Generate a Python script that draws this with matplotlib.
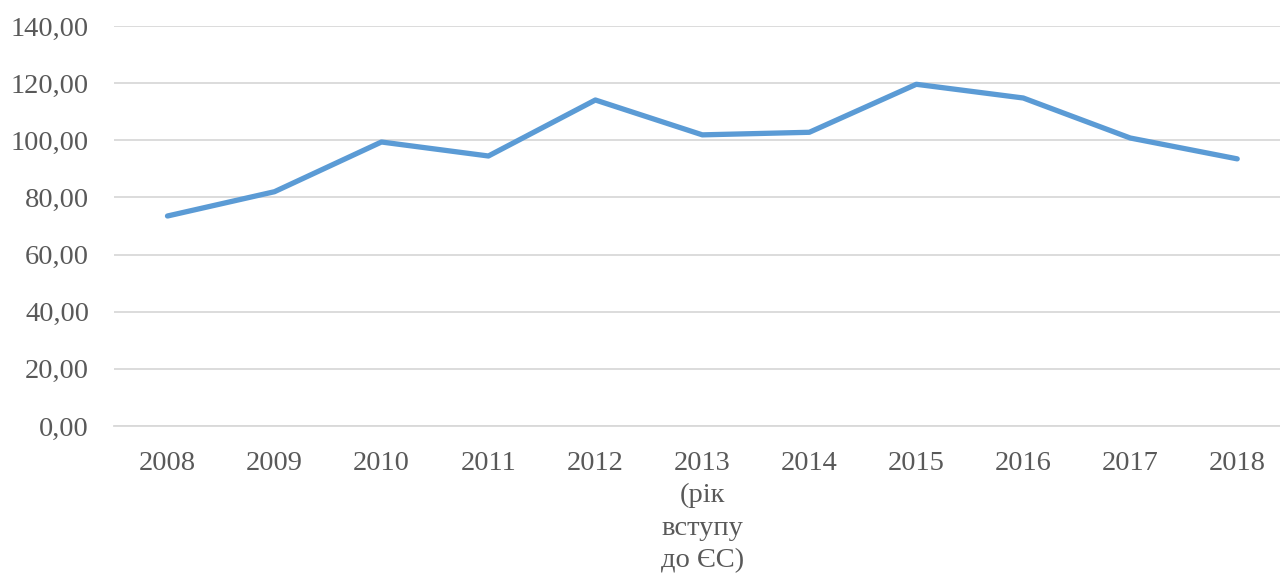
import matplotlib
matplotlib.use("Agg")
import matplotlib.pyplot as plt

years = ["2008", "2009", "2010", "2011", "2012", "2013\n(рік\nвступу\nдо ЄС)",
         "2014", "2015", "2016", "2017", "2018"]
values = [73.5, 82.0, 99.4, 94.5, 114.1, 101.9, 102.8, 119.6, 114.8, 100.8, 93.5]
yticks = [0, 20, 40, 60, 80, 100, 120, 140]
ytick_labels = ["0,00", "20,00", "40,00", "60,00", "80,00", "100,00", "120,00", "140,00"]

plt.rcParams['font.family'] = ['Liberation Serif', 'DejaVu Serif']

fig = plt.figure(figsize=(12.8, 5.77), dpi=100)
ax = fig.add_axes([114/1280, 1 - 426/577, 1 - 114/1280, 400/577])

x = list(range(len(values)))
ax.plot(x, values, color="#5B9BD5", linewidth=3.8, solid_capstyle="round", solid_joinstyle="round", zorder=3)

ax.set_xlim(-0.5, 10.4)
ax.set_ylim(0, 140)
ax.set_yticks(yticks)
ax.set_yticklabels(ytick_labels)
ax.set_xticks(x)
ax.set_xticklabels(years, linespacing=1.38)

ax.grid(axis="y", color="#D9D9D9", linewidth=1.3)
ax.set_axisbelow(True)
for s in ["top", "right", "left"]:
    ax.spines[s].set_visible(False)
ax.spines["bottom"].set_color("#D9D9D9")
ax.spines["bottom"].set_linewidth(1.3)

ax.tick_params(axis="both", length=0, labelsize=20.5, labelcolor="#595959")
ax.tick_params(axis="y", pad=18)
ax.tick_params(axis="x", pad=18)

fig.savefig("out.png", dpi=100)
